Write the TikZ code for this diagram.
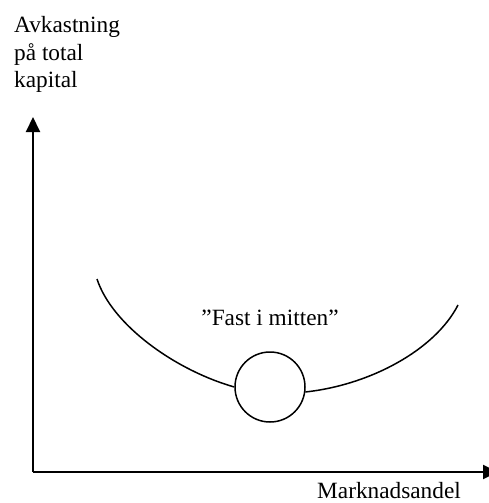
\documentclass[tikz,border=0pt]{standalone}
\usepackage{fontspec}
\setmainfont{Liberation Serif}
\usetikzlibrary{arrows.meta}
\begin{document}
\begin{tikzpicture}[x=1pt,y=-1pt,
  lbl/.style={inner sep=0pt,font=\fontsize{23.3}{27.5}\selectfont},
  axis/.style={line width=2pt,-{Triangle[width=14pt,length=15pt]}},
  curve/.style={line width=1.5pt},
  ring/.style={circle,draw,line width=1.5pt,minimum size=70pt,inner sep=0pt}]
\useasboundingbox (0,0) rectangle (489,503);
\clip (0,0) rectangle (489,503);
\coordinate (o) at (33,472);
\coordinate (ytip) at (33,117);
\coordinate (xtip) at (498,472);
\draw[axis] (o.center) -- (ytip);
\draw[axis] (o.center) -- (xtip);
\node[lbl,anchor=base west,align=left] (ylab) at (14,88) {Avkastning\\på total\\kapital};
\node[lbl,anchor=base west] (xlab) at (317,498) {Marknadsandel};
\node[lbl,anchor=base] (mid) at (270,325) {”Fast i mitten”};
\node[ring] (c) at (270,387) {};
\coordinate (ls) at (97,279);
\coordinate (re) at (458,305);
\draw[curve] (ls) .. controls (112,325) and (175,370) .. (c.west);
\draw[curve] (c.-8) .. controls (370,385) and (435,350) .. (re);
\end{tikzpicture}
\end{document}
